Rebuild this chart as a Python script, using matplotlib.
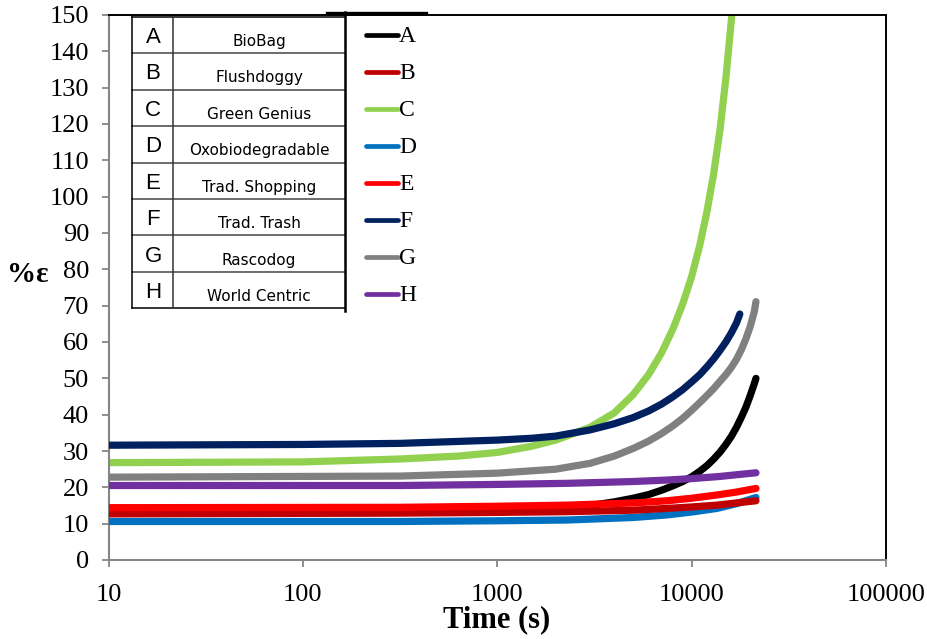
import matplotlib
matplotlib.use("Agg")
import matplotlib.pyplot as plt
from matplotlib.lines import Line2D

# strain (%) vs time (s)
t_A = [10, 100, 1000, 2000, 3000, 4000, 5000, 6000, 7000, 8000, 9000, 10000,
       11000, 12000, 13000, 14000, 15000, 16000, 17000, 18000, 19000, 20000,
       21000, 21430]
e_A = [13.0, 13.0, 13.2, 14.0, 15.0, 16.0, 17.0, 18.0, 19.2, 20.4, 21.6, 22.9,
       24.4, 26.0, 27.8, 29.7, 31.8, 34.0, 36.5, 39.2, 42.0, 45.2, 48.5, 50.0]

t_B = [10, 316, 1000, 2283, 5000, 7460, 10000, 13500, 17000, 21430]
e_B = [12.7, 12.9, 13.1, 13.3, 13.7, 14.2, 14.6, 15.1, 15.7, 16.3]

t_C = [10, 100, 316, 630, 1000, 1500, 2000, 3000, 4000, 5000, 6000, 7000,
       8000, 9000, 10000, 11000, 12000, 13000, 14000, 15000, 16000, 17000]
e_C = [26.8, 27.0, 27.8, 28.6, 29.6, 31.3, 33.0, 36.5, 40.5, 45.5, 51.0, 57.0,
       63.5, 70.5, 78.0, 86.5, 96.0, 106.5, 118.5, 132.5, 148.5, 166.0]

t_D = [10, 316, 1000, 2283, 5000, 7460, 10000, 13500, 17000, 21430]
e_D = [10.6, 10.6, 10.8, 11.0, 11.7, 12.4, 13.2, 14.2, 15.5, 17.2]

t_E = [10, 316, 1000, 2283, 5000, 7460, 10000, 13500, 17000, 21430]
e_E = [14.4, 14.5, 14.8, 15.1, 15.7, 16.3, 17.0, 17.9, 18.7, 19.7]

t_F = [10, 100, 316, 1000, 1500, 2000, 3000, 4000, 5000, 6000, 7000, 8000,
       9000, 10000, 11000, 12000, 13000, 14000, 15000, 16000, 17000, 17700]
e_F = [31.6, 31.8, 32.1, 33.0, 33.5, 34.1, 35.8, 37.5, 39.2, 41.0, 42.9, 44.9,
       46.9, 49.0, 51.0, 53.2, 55.4, 57.7, 60.0, 62.5, 65.2, 67.7]

t_G = [10, 316, 1000, 2000, 3000, 4000, 5000, 6000, 7000, 8000, 9000, 10000,
       11000, 12000, 13000, 14000, 15000, 16000, 17000, 18000, 19000, 20000,
       21000, 21430]
e_G = [22.8, 23.1, 23.9, 25.0, 26.6, 28.6, 30.7, 32.7, 34.8, 36.9, 39.0, 41.2,
       43.3, 45.3, 47.2, 49.2, 51.0, 53.0, 55.2, 57.8, 60.8, 64.2, 68.3, 71.1]

t_H = [10, 316, 1000, 2283, 5000, 7460, 10000, 14000, 18000, 21430]
e_H = [20.5, 20.5, 20.8, 21.1, 21.6, 22.0, 22.4, 23.0, 23.6, 24.0]

letters = ["A", "B", "C", "D", "E", "F", "G", "H"]
names = ["BioBag", "Flushdoggy", "Green Genius", "Oxobiodegradable",
         "Trad. Shopping", "Trad. Trash", "Rascodog", "World Centric"]
colors = ["#000000", "#C00000", "#92D050", "#0070C0",
          "#FF0000", "#002060", "#808080", "#7030A0"]

series = {
    "A": (t_A, e_A), "B": (t_B, e_B), "C": (t_C, e_C), "D": (t_D, e_D),
    "E": (t_E, e_E), "F": (t_F, e_F), "G": (t_G, e_G), "H": (t_H, e_H),
}
draw_order = ["C", "F", "G", "A", "D", "B", "E", "H"]

W, H = 927, 639
fig = plt.figure(figsize=(W / 100, H / 100), dpi=100)
ax = fig.add_axes([108.5 / W, 1 - 560 / H, (886 - 108.5) / W, (560 - 15) / H])

for z, k in enumerate(draw_order):
    t, e = series[k]
    ax.plot(t, e, color=colors[letters.index(k)], lw=5.2,
            solid_capstyle="round", solid_joinstyle="round", zorder=2 + z)

ax.set_xscale("log")
ax.set_xlim(10, 100000)
ax.set_ylim(0, 150)
ax.set_yticks(range(0, 151, 10))
ax.set_xticks([10, 100, 1000, 10000, 100000])
ax.set_xticklabels(["10", "100", "1000", "10000", "100000"])
ax.minorticks_off()

serif = "Liberation Serif"
for lab in ax.get_xticklabels() + ax.get_yticklabels():
    lab.set_fontfamily(serif)
    lab.set_fontsize(19)
ax.tick_params(axis="both", direction="out", length=5, width=1.3,
               color="#868686")
ax.tick_params(axis="y", pad=9)
ax.tick_params(axis="x", pad=12)

for s in ["left", "bottom"]:
    ax.spines[s].set_color("#868686")
    ax.spines[s].set_linewidth(1.5)
for s in ["top", "right"]:
    ax.spines[s].set_color("black")
    ax.spines[s].set_linewidth(1.4)

fig.text(497 / W, 1 - 620 / H, "Time (s)", fontfamily=serif,
         fontweight="bold", fontsize=22, ha="center", va="center")
fig.text(28 / W, 1 - 274 / H, "%\u03b5", fontfamily=serif, fontweight="bold",
         fontsize=21, ha="center", va="center")


def fx(px):
    return px / W


def fy(py):
    return 1 - py / H


# legend table drawn as in the original picture
x0, x1, xm = 131.7, 345, 173.3
y0, row = 16.7, 36.45
for i in range(9):
    yy = y0 + i * row
    fig.add_artist(Line2D([fx(x0), fx(x1)], [fy(yy), fy(yy)],
                          color="#444444" if 0 < i < 8 else "black",
                          lw=1.1, zorder=20))
fig.add_artist(Line2D([fx(x0), fx(x0)], [fy(y0), fy(y0 + 8 * row)],
                      color="black", lw=1.1, zorder=20))
fig.add_artist(Line2D([fx(xm), fx(xm)], [fy(y0), fy(y0 + 8 * row)],
                      color="#333333", lw=1.1, zorder=20))
fig.add_artist(Line2D([fx(x1), fx(x1)], [fy(12), fy(y0 + 8 * row + 3)],
                      color="black", lw=1.8, zorder=20))
fig.add_artist(Line2D([fx(327), fx(426)], [fy(12.7), fy(12.7)],
                      color="black", lw=2.4, zorder=20))

for i, (let, nm, c) in enumerate(zip(letters, names, colors)):
    yc = y0 + (i + 0.5) * row
    fig.text(fx(153), fy(yc + 2.5), let, fontfamily="Liberation Sans",
             fontsize=16, ha="center", va="center", zorder=21)
    fig.text(fx(259), fy(yc + 6.5), nm, fontfamily="DejaVu Sans",
             fontsize=11, ha="center", va="center", zorder=21)
    ly = 35 + i * 37.0
    fig.add_artist(Line2D([fx(366), fx(398)], [fy(ly), fy(ly)], color=c,
                          lw=3.4, solid_capstyle="round", zorder=21))
    fig.text(fx(399), fy(ly + 1.5), let, fontfamily=serif, fontsize=17,
             ha="left", va="center", zorder=21)

fig.savefig("out.png", dpi=100)
